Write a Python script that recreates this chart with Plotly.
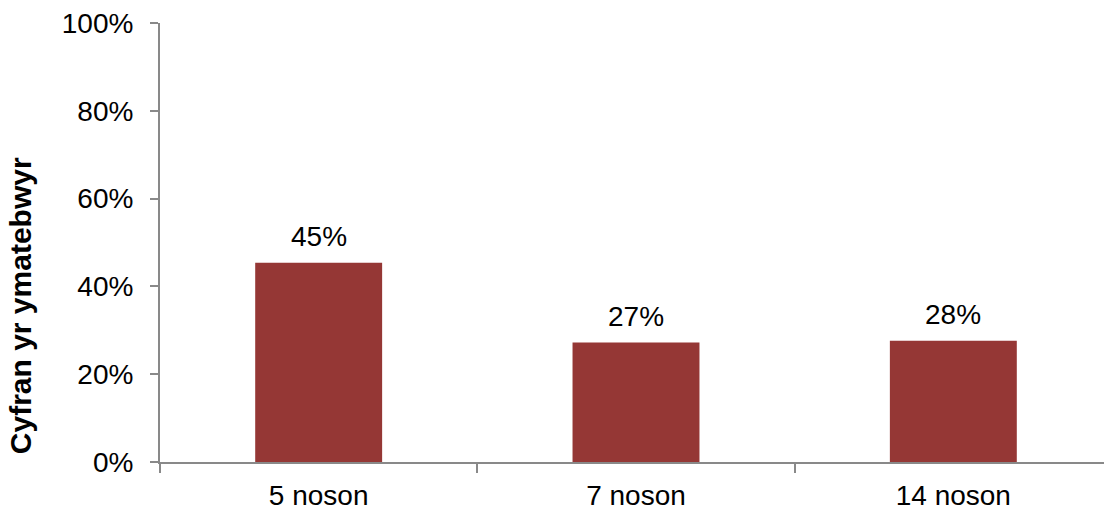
import plotly.graph_objects as go

categories = ["5 noson", "7 noson", "14 noson"]
values = [0.454, 0.272, 0.276]
tick_vals = [0, 0.2, 0.4, 0.6, 0.8, 1.0]
tick_text = ["0%", "20%", "40%", "60%", "80%", "100%"]
y_title = "Cyfran yr ymatebwyr"

bar_color = "#953735"
axis_color = "#898989"
font_family = "Liberation Sans, Arial, sans-serif"

fig = go.Figure()
fig.add_trace(go.Bar(
    x=categories, y=values, width=0.4,
    marker=dict(color=bar_color, line=dict(width=0)),
    hoverinfo="skip",
))

for c, v in zip(categories, values):
    fig.add_annotation(
        x=c, y=v, xref="x", yref="y",
        text=f"{round(v*100):d}%", showarrow=False,
        yanchor="bottom", yshift=9,
        font=dict(family=font_family, size=28, color="#000000"),
    )

fig.add_annotation(
    xref="paper", yref="paper", x=-0.147, y=0.355,
    text=f"<b>{y_title}</b>", textangle=-90, showarrow=False,
    xanchor="center", yanchor="middle",
    font=dict(family=font_family, size=30, color="#000000"),
)

# page body has an 8px default margin, so the figure is offset by 8px
fig.update_layout(
    width=1104, height=501,
    margin=dict(l=152, r=0, t=15, b=47),
    paper_bgcolor="white", plot_bgcolor="white",
    showlegend=False,
    font=dict(family=font_family, size=28, color="#000000"),
)
fig.update_xaxes(
    automargin=False,
    showline=True, linecolor=axis_color, linewidth=2,
    ticks="outside", tickson="boundaries", ticklen=9, tickcolor=axis_color, tickwidth=2,
    showgrid=False, zeroline=False,
    tickfont=dict(family=font_family, size=28, color="#000000"),
    ticklabelstandoff=7, ticklabeloverflow="allow",
)
fig.update_yaxes(
    automargin=False,
    range=[0, 1], tickvals=tick_vals, ticktext=tick_text,
    showline=True, linecolor=axis_color, linewidth=2,
    ticks="outside", ticklen=8, tickcolor=axis_color, tickwidth=2,
    showgrid=False, zeroline=False,
    tickfont=dict(family=font_family, size=28, color="#000000"),
    ticklabelstandoff=11, ticklabeloverflow="allow",
)

fig.write_html("out.html")
